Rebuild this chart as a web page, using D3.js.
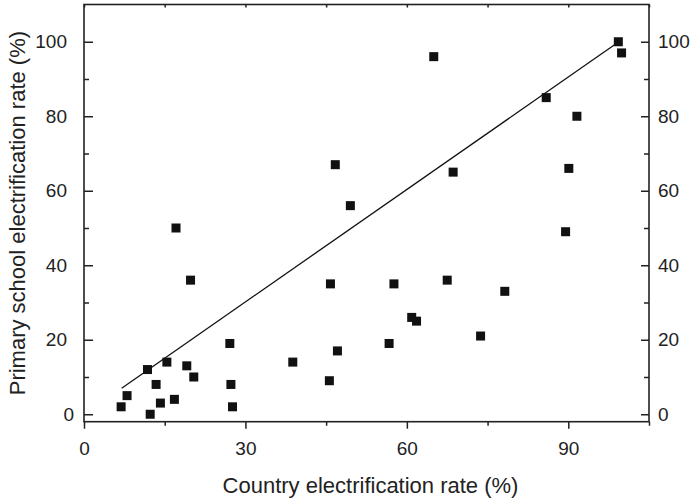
<!DOCTYPE html>
<html>
<head>
<meta charset="utf-8">
<script src="https://cdn.jsdelivr.net/npm/d3@7"></script>
<style>
  html, body { margin: 0; padding: 0; background: #fff; }
  svg { display: block; }
  text { font-family: "Liberation Sans", Arial, Helvetica, sans-serif; fill: #222; }
</style>
</head>
<body>
<svg id="chart" width="691" height="503"></svg>
<script>
// Data
const countryRate = [6.9, 8.0, 11.8, 12.3, 13.4, 14.2, 15.4, 16.8, 17.1, 19.1,
  19.8, 20.4, 27.1, 27.3, 27.6, 38.8, 45.6, 45.8, 47.1, 49.5,
  56.7, 57.6, 60.9, 61.8, 67.5, 73.7, 78.2, 89.5,
  46.7, 65.0, 68.6, 85.9, 91.6, 90.1, 99.3, 99.9];
const schoolRate = [2, 5, 12, 0, 8, 3, 14, 4, 50, 13,
  36, 10, 19, 8, 2, 14, 9, 35, 17, 56,
  19, 35, 26, 25, 36, 21, 33, 49,
  67, 96, 65, 85, 80, 66, 100, 97];
const fitX = [7, 99];
const fitY = [7, 99.6];
const xMajorTicks = [0, 30, 60, 90];
const xMinorTicks = [15, 45, 75, 105];
const yMajorTicks = [0, 20, 40, 60, 80, 100];
const yMinorTicks = [10, 30, 50, 70, 90];
const xTitle = "Country electrification rate (%)";
const yTitle = "Primary school electrification rate (%)";

const svg = d3.select("#chart");
const L = 84, R = 649, T = 4.5, B = 421.7;
const x = d3.scaleLinear().domain([0, 105]).range([L, R]);
const y = d3.scaleLinear().domain([-2, 110]).range([B, T]);

const tickFont = "19px";

// bottom axis (outward ticks)
const gb = svg.append("g").attr("transform", `translate(0,${B})`)
  .call(d3.axisBottom(x).tickValues(xMajorTicks).tickSizeInner(7).tickSizeOuter(0).tickPadding(13).tickFormat(d3.format("d")));
const gbm = svg.append("g").attr("transform", `translate(0,${B})`)
  .call(d3.axisBottom(x).tickValues(xMinorTicks).tickSizeInner(4).tickSizeOuter(0).tickFormat(""));
// top axis (inward ticks)
const gt = svg.append("g").attr("transform", `translate(0,${T})`)
  .call(d3.axisTop(x).tickValues(xMajorTicks.concat(xMinorTicks)).tickSizeInner(-3).tickSizeOuter(0).tickFormat(""));
// left axis (inward ticks)
const gl = svg.append("g").attr("transform", `translate(${L},0)`)
  .call(d3.axisLeft(y).tickValues(yMajorTicks).tickSizeInner(-9).tickSizeOuter(0).tickPadding(17).tickFormat(d3.format("d")));
const glm = svg.append("g").attr("transform", `translate(${L},0)`)
  .call(d3.axisLeft(y).tickValues(yMinorTicks).tickSizeInner(-5).tickSizeOuter(0).tickFormat(""));
// right axis (inward ticks)
const gr = svg.append("g").attr("transform", `translate(${R},0)`)
  .call(d3.axisRight(y).tickValues(yMajorTicks).tickSizeInner(-8).tickSizeOuter(0).tickPadding(9).tickFormat(d3.format("d")));
const grm = svg.append("g").attr("transform", `translate(${R},0)`)
  .call(d3.axisRight(y).tickValues(yMinorTicks).tickSizeInner(-5).tickSizeOuter(0).tickFormat(""));

[gb, gbm, gt, gl, glm, gr, grm].forEach(g => {
  g.select(".domain").remove();
  g.selectAll(".tick line").attr("stroke", "#222").attr("stroke-width", 1.5);
  g.selectAll(".tick text").style("font-size", tickFont).attr("fill", "#222")
    .style("font-family", '"Liberation Sans", Arial, sans-serif');
});
// the left "0" label sits closer to the axis in the reference
gl.selectAll(".tick").filter(d => d === 0).select("text").attr("x", -10);

// frame
svg.append("rect").attr("x", L).attr("y", T).attr("width", R - L).attr("height", B - T)
  .attr("fill", "none").attr("stroke", "#222").attr("stroke-width", 1.6);

// fit line
const lineData = fitX.map((d, i) => [d, fitY[i]]);
svg.append("path").datum(lineData)
  .attr("d", d3.line().x(d => x(d[0])).y(d => y(d[1])))
  .attr("fill", "none").attr("stroke", "#111").attr("stroke-width", 1.3);

// points
const pts = countryRate.map((d, i) => ({ cx: d, cy: schoolRate[i] }));
const s = 9;
svg.append("g").selectAll("rect").data(pts).join("rect")
  .attr("x", d => x(d.cx) - s / 2)
  .attr("y", d => y(d.cy) - s / 2)
  .attr("width", s).attr("height", s)
  .attr("fill", "#111");

// titles
svg.append("text").attr("x", (L + R) / 2 + 4).attr("y", 493)
  .attr("text-anchor", "middle").style("font-size", "22px").text(xTitle);
svg.append("text").attr("transform", `translate(25,${(T + B) / 2}) rotate(-90)`)
  .attr("text-anchor", "middle").style("font-size", "22px").text(yTitle);
</script>
</body>
</html>
